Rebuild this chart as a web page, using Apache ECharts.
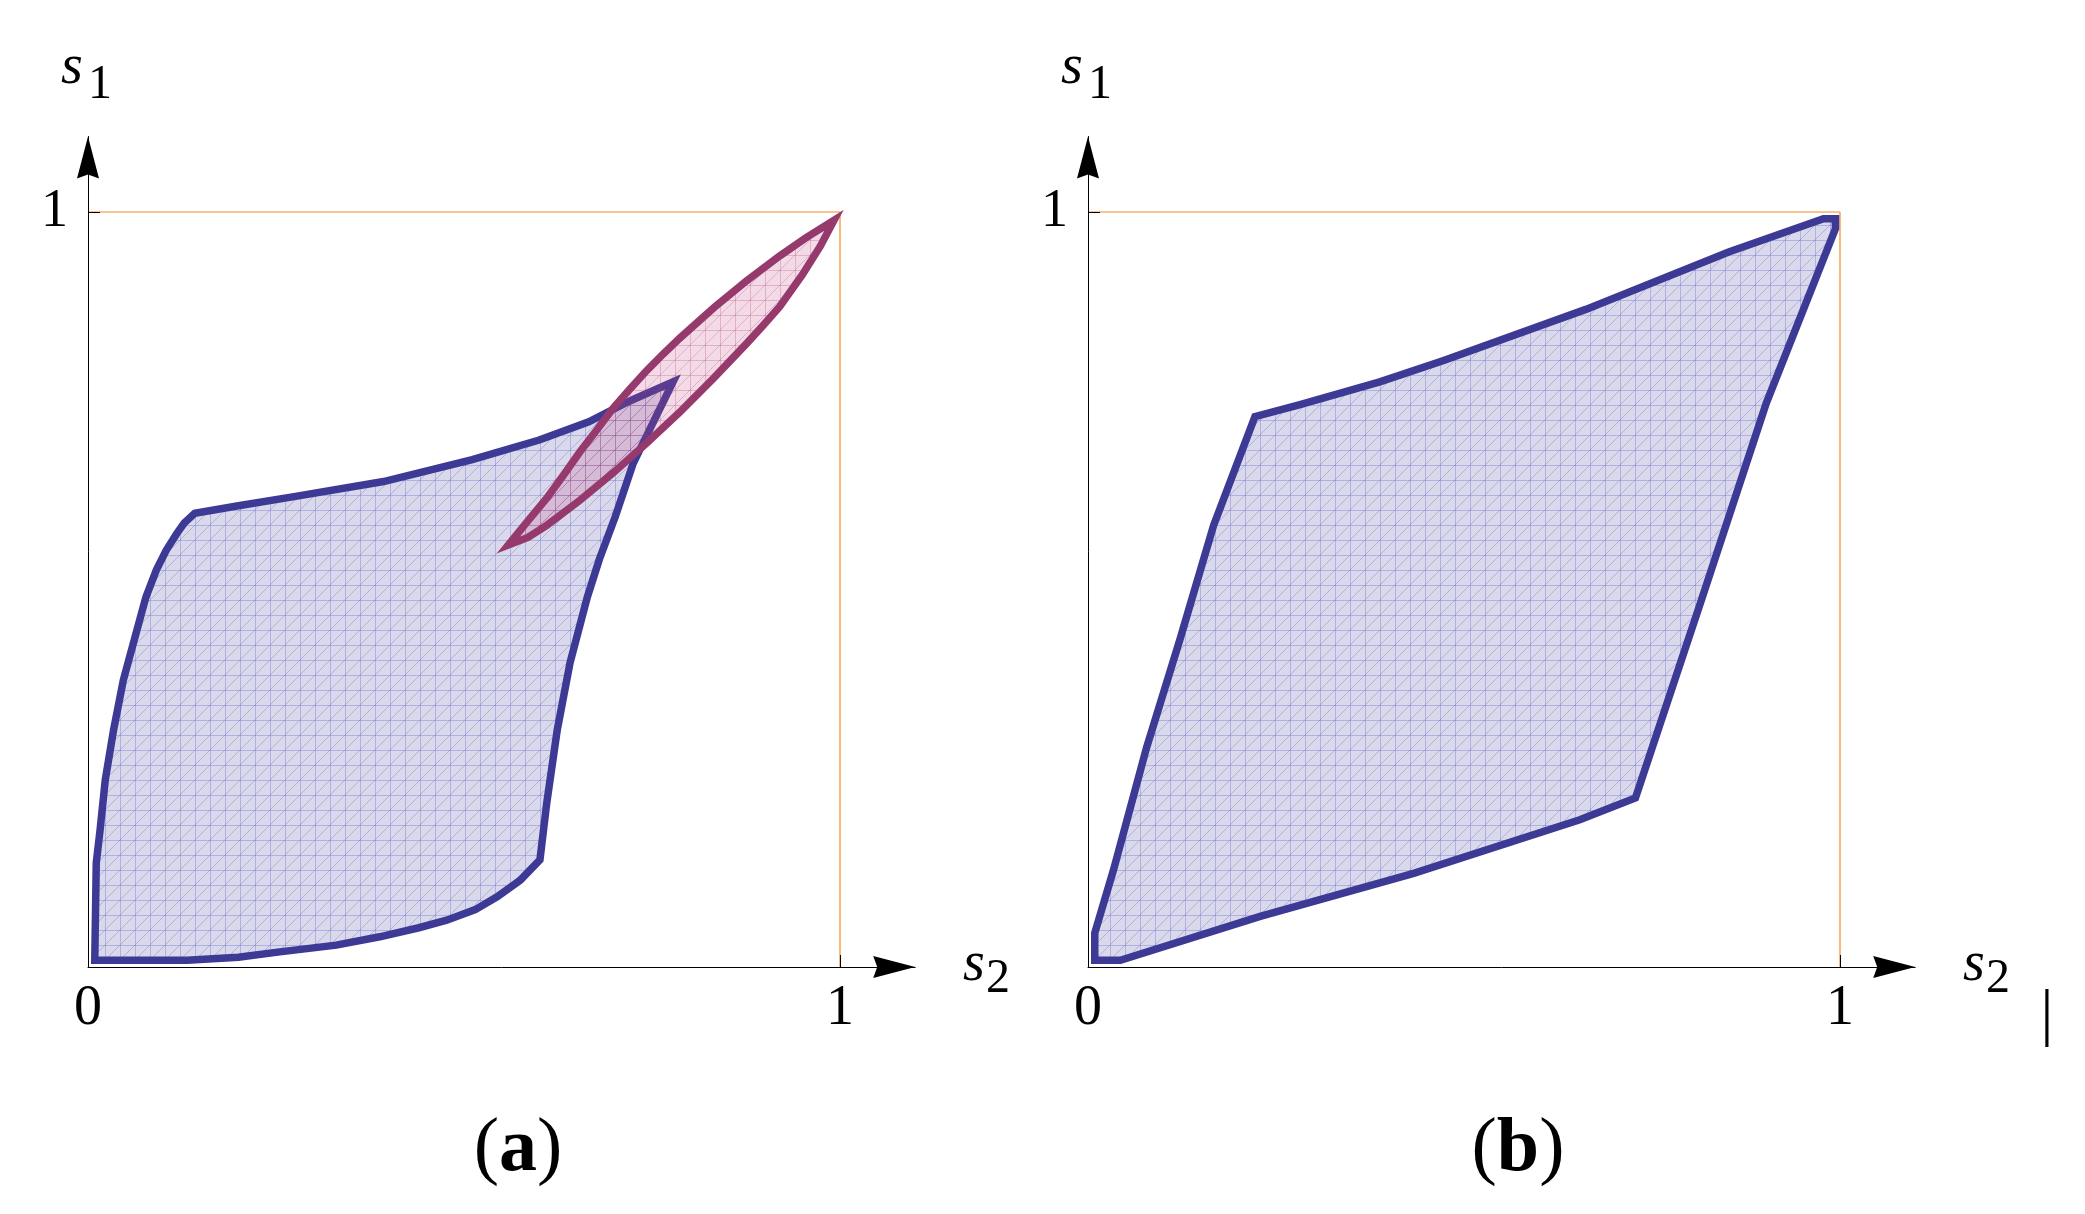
<!DOCTYPE html>
<html><head><meta charset="utf-8">
<script src="https://cdn.jsdelivr.net/npm/echarts@6/dist/echarts.min.js"></script>
<style>html,body{margin:0;padding:0;background:#fff}#c{width:2085px;height:1214px}</style>
</head><body><div id="c"></div>
<script>
// ---- tick labels ----
const xTickValues = [0, 1];
const xTickLabels = ['0', '1'];
const yTickValues = [1];
const yTickLabels = ['1'];
const panelLabels = ['a', 'b'];
const axisNames = { x: ['s', '2'], y: ['s', '1'] };

// ---- region boundaries, [s2, s1] ----
const blueA = [
  [0.009,0.009],[0.132,0.009],[0.200,0.013],[0.255,0.020],[0.330,0.029],[0.388,0.040],[0.440,0.052],
  [0.477,0.062],[0.515,0.076],[0.544,0.093],[0.575,0.115],[0.601,0.142],
  [0.610,0.217],[0.624,0.314],[0.641,0.403],[0.664,0.490],[0.680,0.540],[0.701,0.596],[0.725,0.667],
  [0.749,0.716],[0.778,0.775],
  [0.719,0.749],[0.666,0.722],[0.600,0.698],[0.511,0.672],[0.393,0.643],[0.274,0.623],[0.200,0.611],[0.142,0.601],
  [0.128,0.588],[0.118,0.574],[0.104,0.552],[0.091,0.526],[0.077,0.490],[0.065,0.446],[0.047,0.380],[0.034,0.314],
  [0.023,0.248],[0.016,0.181],[0.011,0.138]
];
const redA = [
  [0.559,0.559],[0.585,0.591],[0.610,0.621],[0.632,0.651],[0.654,0.682],[0.677,0.712],[0.699,0.741],
  [0.721,0.766],[0.743,0.790],[0.765,0.812],[0.787,0.833],[0.832,0.873],[0.876,0.909],[0.920,0.942],
  [0.955,0.966],[0.992,0.989],
  [0.974,0.955],[0.950,0.917],[0.920,0.875],[0.898,0.850],[0.876,0.826],[0.832,0.780],[0.787,0.735],
  [0.743,0.694],[0.699,0.655],[0.654,0.618],[0.610,0.585],[0.585,0.569]
];
const blueB = [
  [0.009,0.009],[0.043,0.009],[0.229,0.067],[0.433,0.124],[0.654,0.195],[0.728,0.224],
  [0.815,0.484],[0.902,0.747],[0.994,0.978],[0.994,0.991],[0.978,0.991],
  [0.852,0.947],[0.662,0.871],[0.472,0.803],[0.388,0.775],[0.282,0.745],[0.222,0.729],
  [0.167,0.585],[0.122,0.433],[0.078,0.291],[0.034,0.129],[0.009,0.045]
];
const frame = [[0,1],[1,1],[1,0]];

// ---- styling ----
const SERIF = '"Liberation Serif", "DejaVu Serif", serif';
function meshPattern(base, line) {
  const c = document.createElement('canvas');
  c.width = 15; c.height = 15;
  const g = c.getContext('2d');
  g.fillStyle = base; g.fillRect(0, 0, 15, 15);
  g.strokeStyle = line; g.lineWidth = 1;
  g.beginPath();
  g.moveTo(0.5, 0); g.lineTo(0.5, 15);
  g.moveTo(0, 0.5); g.lineTo(15, 0.5);
  g.moveTo(0, 15); g.lineTo(15, 0);
  g.stroke();
  return { image: c, repeat: 'repeat' };
}
const blueFill = meshPattern('rgb(217,217,235)', 'rgba(110,110,210,0.38)');
const redFill = meshPattern('rgba(200,70,130,0.2)', 'rgba(160,60,110,0.25)');
const BLUE = '#3d3a96', RED = '#963a6e', ORANGE = '#f08c24';

const AX = 88, AY = 967, UNIT_X = 752, UNIT_Y = 755, EXT = 1.1;
function grid(left) {
  return { left: left, top: AY - UNIT_Y * EXT, width: UNIT_X * EXT, height: UNIT_Y * EXT };
}
const arrowPath = 'path://M0,0 L11,42 L0,38 L-11,42 Z';
function xAxis(i) {
  return {
    type: 'value', gridIndex: i, min: 0, max: EXT, interval: 1, z: 10,
    axisLine: { show: true, lineStyle: { color: '#000', width: 1 }, symbol: ['none', arrowPath], symbolSize: [22, 42], symbolOffset: [0, -21] },
    axisTick: { show: true, inside: true, length: 12, customValues: [1], lineStyle: { color: '#000', width: 1 } },
    axisLabel: { show: true, customValues: xTickValues, formatter: v => xTickLabels[xTickValues.indexOf(v)] || '', fontFamily: SERIF, fontSize: 56, color: '#000', margin: 14 },
    splitLine: { show: false }
  };
}
function yAxis(i) {
  return {
    type: 'value', gridIndex: i, min: 0, max: EXT, interval: 1, z: 10,
    axisLine: { show: true, lineStyle: { color: '#000', width: 1 }, symbol: ['none', arrowPath], symbolSize: [22, 42], symbolOffset: [0, -21] },
    axisTick: { show: true, inside: true, length: 12, customValues: [1], lineStyle: { color: '#000', width: 1 } },
    axisLabel: { show: true, customValues: yTickValues, formatter: v => yTickLabels[yTickValues.indexOf(v)] || '', fontFamily: SERIF, fontSize: 54, color: '#000', margin: 20 },
    splitLine: { show: false }
  };
}
function polySeries(pts, i, stroke, fill, z) {
  return {
    type: 'custom', xAxisIndex: i, yAxisIndex: i, data: pts, z: z, silent: true, animation: false, clip: false,
    renderItem: (params, api) => {
      if (params.dataIndex !== 0) return null;
      return {
        type: 'polygon',
        shape: { points: pts.map(p => api.coord(p)) },
        style: { fill: fill, stroke: stroke, lineWidth: 7.5, lineJoin: 'miter', miterLimit: 6 }
      };
    }
  };
}
function frameSeries(i) {
  return { type: 'line', xAxisIndex: i, yAxisIndex: i, data: frame, symbol: 'none', silent: true, animation: false, z: 1,
    lineStyle: { color: ORANGE, width: 1.2 } };
}
function texts(off) {
  const els = [];
  els.push({ type: 'text', x: 61 + off, y: 68, style: { text: axisNames.y[0], font: 'italic 56px ' + SERIF, fill: '#000', align: 'left', verticalAlign: 'middle' } });
  els.push({ type: 'text', x: 88 + off, y: 85, style: { text: axisNames.y[1], font: '48px ' + SERIF, fill: '#000', align: 'left', verticalAlign: 'middle' } });
  els.push({ type: 'text', x: 963 + off, y: 965, style: { text: axisNames.x[0], font: 'italic 56px ' + SERIF, fill: '#000', align: 'left', verticalAlign: 'middle' } });
  els.push({ type: 'text', x: 986 + off, y: 979, style: { text: axisNames.x[1], font: '48px ' + SERIF, fill: '#000', align: 'left', verticalAlign: 'middle' } });
  return els;
}
const graphics = [].concat(texts(0), texts(1000));
panelLabels.forEach((p, k) => {
  graphics.push({ type: 'text', x: 518 + 1000 * k, y: 1150, style: {
    text: '{p|(}{b|' + p + '}{p|)}', align: 'center', verticalAlign: 'middle', fill: '#000',
    rich: { p: { fontFamily: SERIF, fontSize: 76, fill: '#000' }, b: { fontFamily: SERIF, fontSize: 76, fontWeight: 'bold', fill: '#000' } }
  } });
});
graphics.push({ type: 'text', x: 2047, y: 1016, style: { text: '|', font: '64px ' + SERIF, fill: '#000', align: 'center', verticalAlign: 'middle' } });

const chart = echarts.init(document.getElementById('c'));
chart.setOption({
  backgroundColor: '#fff',
  animation: false,
  grid: [grid(AX), grid(AX + 1000)],
  xAxis: [xAxis(0), xAxis(1)],
  yAxis: [yAxis(0), yAxis(1)],
  series: [
    frameSeries(0), frameSeries(1),
    polySeries(blueA, 0, BLUE, blueFill, 3),
    polySeries(redA, 0, RED, redFill, 4),
    polySeries(blueB, 1, BLUE, blueFill, 3)
  ],
  graphic: graphics
});
</script></body></html>
